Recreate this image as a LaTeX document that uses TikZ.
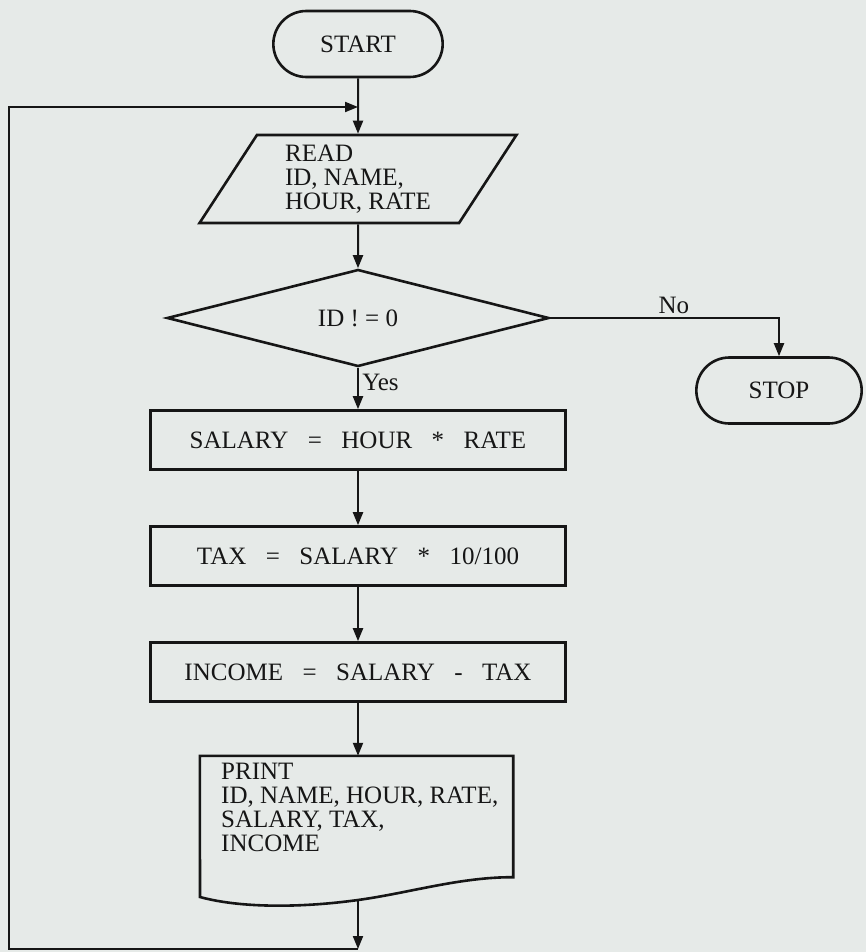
\documentclass[tikz,border=0pt]{standalone}
\usepackage{fontspec}
\setmainfont{Liberation Serif}
\usetikzlibrary{shapes.geometric,shapes.misc,arrows.meta}
\definecolor{paper}{RGB}{230,234,232}
\definecolor{ink}{RGB}{22,22,22}
\tikzset{
  termnode/.style={rounded rectangle,draw=ink,line width=2.6pt,minimum width=176pt,minimum height=66pt},
  iobox/.style={trapezium,trapezium left angle=60,trapezium right angle=120,trapezium stretches=true,
    draw=ink,line width=2.6pt,minimum width=317pt,minimum height=88pt,align=left},
  procbox/.style={rectangle,draw=ink,line width=2.6pt,minimum width=415pt,minimum height=59pt,inner sep=0pt},
  decbox/.style={diamond,draw=ink,line width=2.6pt,minimum width=382pt,minimum height=72pt,inner sep=0pt},
  arr/.style={draw=ink,line width=2pt,-{Triangle[length=13pt,width=10pt]}}
}
\newcommand\gap{\hspace{.78em}}

\begin{document}
\begin{tikzpicture}[x=1pt,y=-1pt,font=\fontsize{25}{24}\selectfont,text=ink]
\path[fill=paper,use as bounding box](0,0)rectangle(866,952);
\node[termnode](start)at(358,44){START};
\node[iobox](read)at(358,179){READ\\ID, NAME,\\HOUR, RATE};
\node[decbox](dec)at(358,318){ID ! = 0};
\node[termnode,minimum width=172pt](stop)at(779,390.5){STOP};
\foreach \t[count=\i from 1,evaluate=\i as\y using 324+116*\i] in {
  SALARY\gap=\gap HOUR\gap*\gap RATE,
  TAX\gap=\gap SALARY\gap*\gap 10/100,
  INCOME\gap=\gap SALARY\gap-\gap TAX
}
\node[procbox](calc\i)at(358,\y){\t};
\node[minimum width=313pt,minimum height=121pt,inner sep=0pt](doc)at(356.5,816.5){};
\draw[ink,line width=2.6pt](doc.north west)--(200,897)
  .. controls (240,908) and (300,908) .. (358,900) coordinate(docout)
  .. controls (410,892.8) and (460,877) .. (doc.south east)--(doc.north east)--cycle;
\node[anchor=north west,align=left,inner sep=0pt](prtxt)at(221,763){PRINT\\ID, NAME, HOUR, RATE,\\SALARY, TAX,\\INCOME};
\coordinate(loopin)at(start.south|-0,107);
\coordinate(loopbot)at(docout|-0,949);
\coordinate(lb)at(9,949);
\coordinate(lt)at(9,107);
\draw[arr](start)--(read);
\draw[arr](read)--(dec);
\draw[arr](dec)--node[right,pos=.35]{Yes}(calc1);
\draw[arr](dec.east)-|node[above,pos=.27]{No}(stop.north);
\draw[arr](calc1)--(calc2);
\draw[arr](calc2)--(calc3);
\draw[arr](calc3.south)--(calc3.south|-doc.north);
\draw[arr](docout)--(loopbot);
\draw[arr](loopbot)--(lb)--(lt)--(loopin);
\end{tikzpicture}
\end{document}
